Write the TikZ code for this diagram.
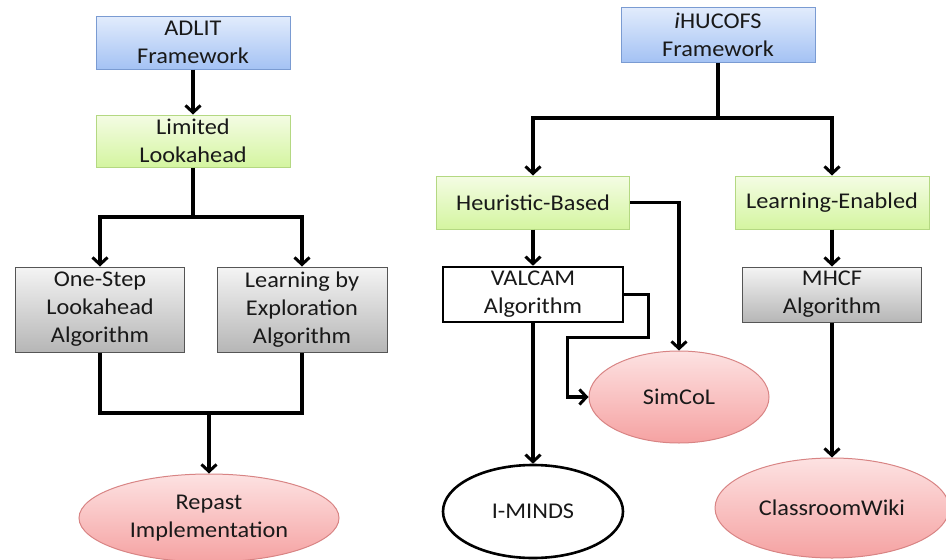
\documentclass[tikz,border=0pt]{standalone}
\usepackage{fontspec}
\setmainfont{Carlito}[FakeStretch=1.08]
\usetikzlibrary{arrows.meta,shapes.geometric}

\definecolor{bluetop}{HTML}{E2ECFC}
\definecolor{bluebot}{HTML}{A4C2F4}
\definecolor{bluedge}{HTML}{7A9BD2}
\definecolor{greentop}{HTML}{F4FCE4}
\definecolor{greenbot}{HTML}{D4F5A0}
\definecolor{greenedge}{HTML}{B4D882}
\definecolor{graytop}{HTML}{F4F4F4}
\definecolor{graybot}{HTML}{B6B6B6}
\definecolor{grayedge}{HTML}{555555}
\definecolor{pinktop}{HTML}{FDE2E2}
\definecolor{pinkbot}{HTML}{F5A2A2}
\definecolor{pinkedge}{HTML}{D88484}

\tikzset{
  base/.style={align=center, inner sep=0pt, text=black!90,
    font=\fontsize{22.5}{28}\selectfont},
  bluebox/.style={base, rectangle, draw=bluedge, line width=1pt,
    top color=bluetop, bottom color=bluebot},
  greenbox/.style={base, rectangle, draw=greenedge, line width=1pt,
    top color=greentop, bottom color=greenbot},
  graybox/.style={base, rectangle, draw=grayedge, line width=1pt,
    top color=graytop, bottom color=graybot},
  whitebox/.style={base, rectangle, draw=black, line width=2.6pt, fill=white},
  pinkoval/.style={base, ellipse, draw=pinkedge, line width=1pt,
    top color=pinktop, bottom color=pinkbot},
  whiteoval/.style={base, ellipse, draw=black, line width=2.6pt, fill=white},
  link/.style={draw=black, line width=3.2pt},
  arr/.style={link, -{Straight Barb[length=7pt,width=15pt,line width=3pt]}},
}

\begin{document}
\begin{tikzpicture}[x=1pt,y=-1pt]
\useasboundingbox (0,0) rectangle (946,560);

% ADLIT branch
\node[bluebox, minimum width=194pt, minimum height=53pt] (adlit) at (193,42.5) {ADLIT\\Framework};
\node[greenbox, minimum width=194pt, minimum height=52pt] (limited) at (193,141) {Limited\\Lookahead};
\node[graybox, minimum width=169pt, minimum height=85pt] (onestep) at (100,309.5) {One-Step\\Lookahead\\Algorithm};
\node[graybox, minimum width=170pt, minimum height=85pt] (lbe) at (302,309.5) {Learning by\\Exploration\\Algorithm};
\node[pinkoval, minimum width=260pt, minimum height=88pt] (repast) at (209,518) {Repast\\Implementation};

\coordinate (j1) at (193,217);
\coordinate (j2) at (209,413);

\draw[arr] (adlit) -- (limited);
\draw[link] (limited.south) -- (j1);
\draw[arr] (j1) -| (onestep.north);
\draw[arr] (j1) -| (lbe.north);
\draw[link] (onestep.south) |- (j2) -| (lbe.south);
\draw[arr] (j2) -- (repast.north);

% iHUCOFS branch
\node[bluebox, minimum width=194pt, minimum height=55pt] (ihucofs) at (718,34.5) {\textit{i}HUCOFS\\Framework};
\node[greenbox, minimum width=193pt, minimum height=53pt] (heur) at (533,202.5) {Heuristic-Based};
\node[greenbox, minimum width=194pt, minimum height=53pt] (learn) at (832,202.5) {Learning-Enabled};
\node[whitebox, minimum width=180pt, minimum height=55pt] (valcam) at (533,294.5) {VALCAM\\Algorithm};
\node[graybox, minimum width=179pt, minimum height=55pt] (mhcf) at (832,294.5) {MHCF\\Algorithm};
\node[pinkoval, minimum width=180pt, minimum height=92pt] (simcol) at (679,397) {SimCoL};
\node[whiteoval, minimum width=180pt, minimum height=93pt] (iminds) at (533,511.5) {I-MINDS};
\node[pinkoval, minimum width=234pt, minimum height=100pt] (wiki) at (832,508) {ClassroomWiki};

\coordinate (j3) at (718,118);

\draw[link] (ihucofs.south) -- (j3);
\draw[arr] (j3) -| (heur.north);
\draw[arr] (j3) -| (learn.north);
\draw[arr] (heur.east) -| (simcol.north);
\draw[arr] (heur.south) -- (valcam.north);
\draw[arr] (valcam.east) -- ++(24,0) -- ++(0,43) -- ++(-81,0) |- (simcol.west);
\draw[arr] (valcam.south) -- (iminds.north);
\draw[arr] (learn.south) -- (mhcf.north);
\draw[arr] (mhcf.south) -- (wiki.north);
\end{tikzpicture}
\end{document}
